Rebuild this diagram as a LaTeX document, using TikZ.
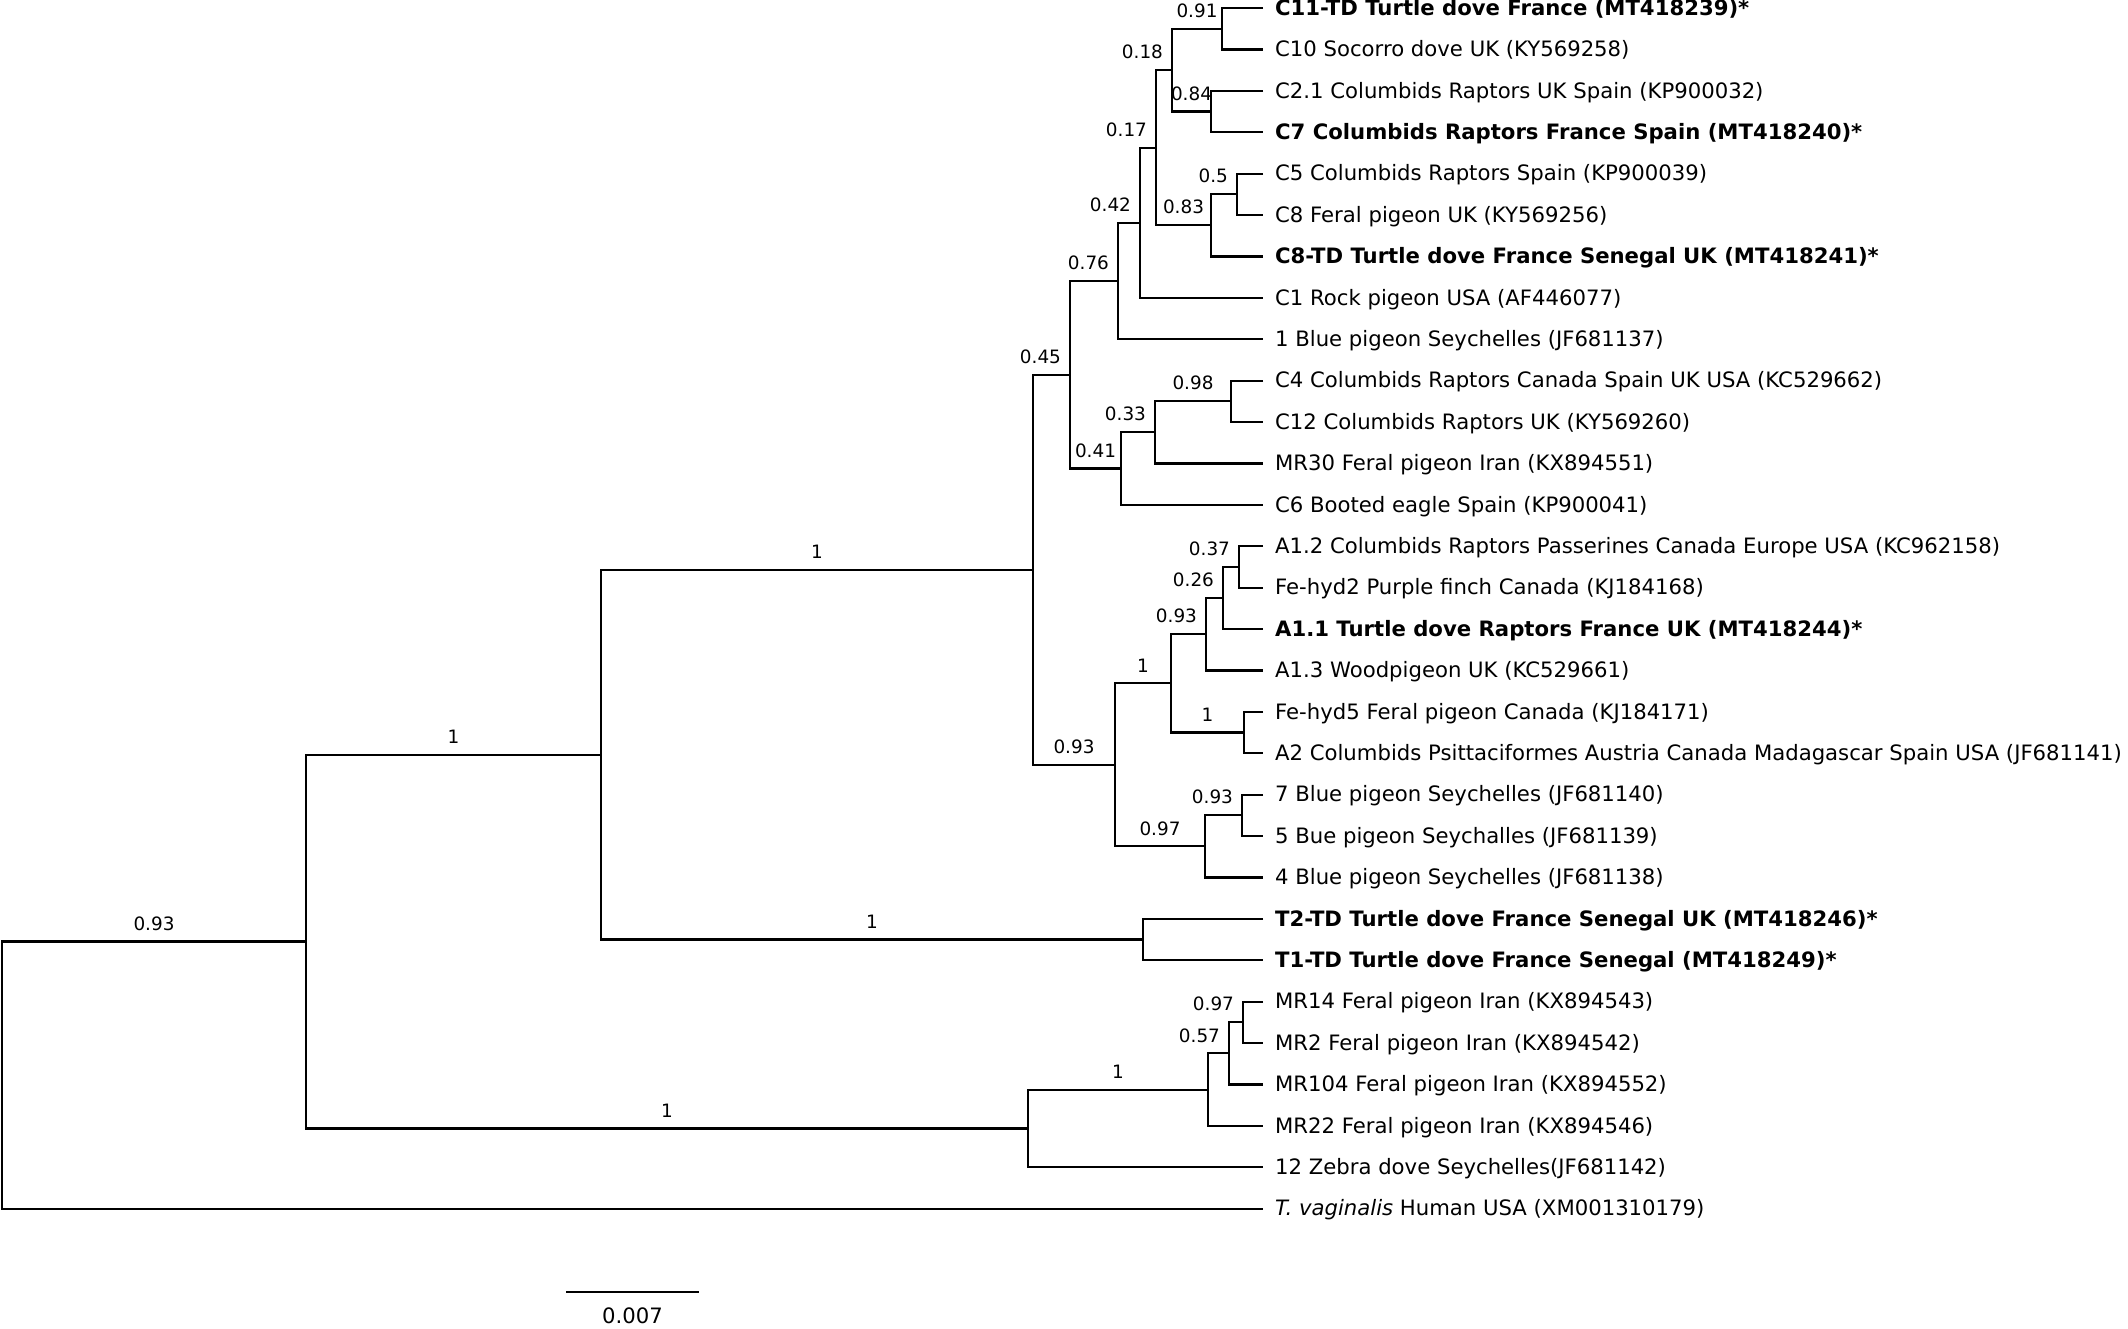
\documentclass[tikz,border=0pt]{standalone}
\usepackage{fontspec}
\setmainfont{DejaVu Sans}
\newcommand{\novel}[1]{\textbf{#1}} % Sequence from this study.
\newcommand{\taxonfont}{\fontsize{10.6}{12}\selectfont}
\newcommand{\ppfont}{\fontsize{9.2}{11}\selectfont}

\begin{document}
\begin{tikzpicture}[x=0.5pt, y=-0.5pt, line width=1.1pt,
  taxon/.style={anchor=west, inner xsep=5.5pt, inner ysep=0pt,
    text height=0.73em, text depth=0pt, font=\taxonfont},
  pp/.style={midway, above, inner sep=2pt, yshift=3pt, font=\ppfont},
  ppa/.style={pp, pos=0, anchor=south east, xshift=-2pt}]
\useasboundingbox (0,0) rectangle (2128,1328);

% taxa
\node[taxon] (c11) at (1263,8) {\novel{C11-TD Turtle dove France (MT418239)*}};
\node[taxon] (c10) at (1263,49.4) {C10 Socorro dove UK (KY569258)};
\node[taxon] (c21) at (1263,90.8) {C2.1 Columbids Raptors UK Spain (KP900032)};
\node[taxon] (c7) at (1263,132.2) {\novel{C7 Columbids Raptors France Spain (MT418240)*}};
\node[taxon] (c5) at (1263,173.6) {C5 Columbids Raptors Spain (KP900039)};
\node[taxon] (c8) at (1263,215) {C8 Feral pigeon UK (KY569256)};
\node[taxon] (c8td) at (1263,256.4) {\novel{C8-TD Turtle dove France Senegal UK (MT418241)*}};
\node[taxon] (c1) at (1263,297.8) {C1 Rock pigeon USA (AF446077)};
\node[taxon] (bp1) at (1263,339.2) {1 Blue pigeon Seychelles (JF681137)};
\node[taxon] (c4) at (1263,380.6) {C4 Columbids Raptors Canada Spain UK USA (KC529662)};
\node[taxon] (c12) at (1263,422) {C12 Columbids Raptors UK (KY569260)};
\node[taxon] (mr30) at (1263,463.4) {MR30 Feral pigeon Iran (KX894551)};
\node[taxon] (c6) at (1263,504.8) {C6 Booted eagle Spain (KP900041)};
\node[taxon] (a12) at (1263,546.2) {A1.2 Columbids Raptors Passerines Canada Europe USA (KC962158)};
\node[taxon] (fe2) at (1263,587.6) {Fe-hyd2 Purple finch Canada (KJ184168)};
\node[taxon] (a11) at (1263,629) {\novel{A1.1 Turtle dove Raptors France UK (MT418244)*}};
\node[taxon] (a13) at (1263,670.4) {A1.3 Woodpigeon UK (KC529661)};
\node[taxon] (fe5) at (1263,711.8) {Fe-hyd5 Feral pigeon Canada (KJ184171)};
\node[taxon] (a2) at (1263,753.2) {A2 Columbids Psittaciformes Austria Canada Madagascar Spain USA (JF681141)};
\node[taxon] (bp7) at (1263,794.6) {7 Blue pigeon Seychelles (JF681140)};
\node[taxon] (bp5) at (1263,836) {5 Bue pigeon Seychalles (JF681139)};
\node[taxon] (bp4) at (1263,877.4) {4 Blue pigeon Seychelles (JF681138)};
\node[taxon] (t2) at (1263,918.8) {\novel{T2-TD Turtle dove France Senegal UK (MT418246)*}};
\node[taxon] (t1) at (1263,960.2) {\novel{T1-TD Turtle dove France Senegal (MT418249)*}};
\node[taxon] (mr14) at (1263,1001.6) {MR14 Feral pigeon Iran (KX894543)};
\node[taxon] (mr2) at (1263,1043) {MR2 Feral pigeon Iran (KX894542)};
\node[taxon] (mr104) at (1263,1084.4) {MR104 Feral pigeon Iran (KX894552)};
\node[taxon] (mr22) at (1263,1125.8) {MR22 Feral pigeon Iran (KX894546)};
\node[taxon] (zd12) at (1263,1167.2) {12 Zebra dove Seychelles(JF681142)};
\node[taxon] (tvag) at (1263,1208.6) {\textit{T. vaginalis} Human USA (XM001310179)};

% inner nodes, each halfway between its two children
\coordinate (c91) at (1222,28.7);
\coordinate (c84) at (1211,111.5);
\coordinate (c18) at (1172,70.1);
\coordinate (c50) at (1237,194.3);
\coordinate (c83) at (1211,225.35);
\coordinate (c17) at (1156,147.73);
\coordinate (c42) at (1140,222.76);
\coordinate (c76) at (1118,280.98);
\coordinate (c98) at (1231,401.3);
\coordinate (c33) at (1155,432.35);
\coordinate (c41) at (1121,468.58);
\coordinate (c45) at (1070,374.78);
\coordinate (a37) at (1239,566.9);
\coordinate (a26) at (1223,597.95);
\coordinate (a93) at (1206,634.18);
\coordinate (fa2) at (1244,732.5);
\coordinate (a1n) at (1171,683.34);
\coordinate (bpw) at (1242,815.3);
\coordinate (bpr) at (1205,846.35);
\coordinate (an) at (1115,764.84);
\coordinate (cn) at (1033,569.81);
\coordinate (tt) at (1143,939.5);
\coordinate (ct) at (601,754.66);
\coordinate (mrz) at (1243,1022.3);
\coordinate (m57) at (1229,1053.35);
\coordinate (mrx) at (1208,1089.58);
\coordinate (mrn) at (1028,1128.39);
\coordinate (ing) at (306,941.52);
\coordinate (root) at (2,1075.06);

% cherries
\draw (c11) -- (c91 |- c11) -- (c91 |- c10) -- (c10);
\draw (c21) -- (c84 |- c21) -- (c84 |- c7) -- (c7);
\draw (c5) -- (c50 |- c5) -- (c50 |- c8) -- (c8);
\draw (c4) -- (c98 |- c4) -- (c98 |- c12) -- (c12);
\draw (a12) -- (a37 |- a12) -- (a37 |- fe2) -- (fe2);
\draw (fe5) -- (fa2 |- fe5) -- (fa2 |- a2) -- (a2);
\draw (bp7) -- (bpw |- bp7) -- (bpw |- bp5) -- (bp5);
\draw (t2) -- (tt |- t2) -- (tt |- t1) -- (t1);
\draw (mr14) -- (mrz |- mr14) -- (mrz |- mr2) -- (mr2);

% deeper splits
\draw (c91) -- node[pp]{0.91} (c18 |- c91) -- (c18 |- c84) -- node[pp]{0.84} (c84);
\draw (c50) -- node[ppa]{0.5} (c83 |- c50) -- (c83 |- c8td) -- (c8td);
\draw (c18) -- node[ppa]{0.18} (c17 |- c18) -- (c17 |- c83) -- node[pp]{0.83} (c83);
\draw (c17) -- node[ppa]{0.17} (c42 |- c17) -- (c42 |- c1) -- (c1);
\draw (c42) -- node[ppa]{0.42} (c76 |- c42) -- (c76 |- bp1) -- (bp1);
\draw (c98) -- node[pp]{0.98} (c33 |- c98) -- (c33 |- mr30) -- (mr30);
\draw (c33) -- node[ppa]{0.33} (c41 |- c33) -- (c41 |- c6) -- (c6);
\draw (c76) -- node[ppa]{0.76} (c45 |- c76) -- (c45 |- c41) -- node[pp]{0.41} (c41);
\draw (a37) -- node[ppa]{0.37} (a26 |- a37) -- (a26 |- a11) -- (a11);
\draw (a26) -- node[ppa]{0.26} (a93 |- a26) -- (a93 |- a13) -- (a13);
\draw (a93) -- node[ppa]{0.93} (a1n |- a93) -- (a1n |- fa2) -- node[pp]{1} (fa2);
\draw (bpw) -- node[ppa]{0.93} (bpr |- bpw) -- (bpr |- bp4) -- (bp4);
\draw (a1n) -- node[pp]{1} (an |- a1n) -- (an |- bpr) -- node[pp]{0.97} (bpr);
\draw (c45) -- node[ppa]{0.45} (cn |- c45) -- (cn |- an) -- node[pp]{0.93} (an);
\draw (cn) -- node[pp]{1} (ct |- cn) -- (ct |- tt) -- node[pp]{1} (tt);
\draw (mrz) -- node[ppa]{0.97} (m57 |- mrz) -- (m57 |- mr104) -- (mr104);
\draw (m57) -- node[ppa]{0.57} (mrx |- m57) -- (mrx |- mr22) -- (mr22);
\draw (mrx) -- node[pp]{1} (mrn |- mrx) -- (mrn |- zd12) -- (zd12);
\draw (ct) -- node[pp]{1} (ing |- ct) -- (ing |- mrn) -- node[pp]{1} (mrn);
\draw (ing) -- node[pp]{0.93} (root |- ing) -- (root |- tvag) -- (tvag);

% scale bar
\coordinate (bar0) at (566,1292);
\coordinate (bar1) at (699,1292);
\draw (bar0) -- node[below=8pt, inner sep=0pt, text height=0.73em, font=\taxonfont]{0.007} (bar1);
\end{tikzpicture}
\end{document}
